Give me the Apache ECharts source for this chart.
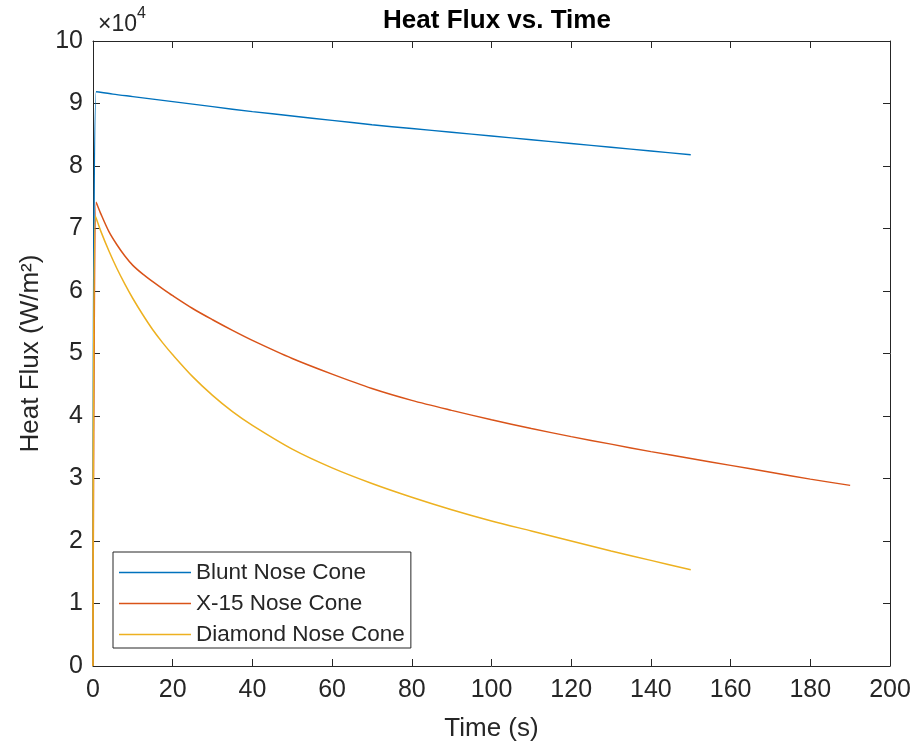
<!DOCTYPE html>
<html>
<head>
<meta charset="utf-8">
<script src="https://cdn.jsdelivr.net/npm/echarts@6/dist/echarts.min.js"></script>
<style>html,body{margin:0;padding:0;background:#fff}#chart{width:917px;height:747px}</style>
</head>
<body>
<div id="chart"></div>
<script>
// Data (heat flux in W/m^2, time in s)
const bluntTime = [0, 0.8, 5, 10, 20, 30, 40, 50, 60, 70, 80, 90, 100, 110, 120, 130, 140, 150];
const bluntFlux = [0, 91900, 91500, 91100, 90300, 89500, 88700, 88000, 87300, 86600, 86000, 85400, 84800, 84200, 83600, 83000, 82400, 81800];

const x15Time = [0, 0.8, 2, 4, 6, 8, 10, 12.5, 15, 17.5, 20, 25, 30, 35, 40, 50, 60, 70, 80, 90, 100, 110, 120, 130, 140, 150, 160, 170, 180, 190];
const x15Flux = [0, 74200, 72300, 69500, 67400, 65600, 64100, 62700, 61500, 60350, 59250, 57200, 55400, 53700, 52100, 49200, 46700, 44400, 42500, 40900, 39400, 38000, 36700, 35500, 34300, 33200, 32100, 31000, 29900, 28900];

const diamondTime = [0, 0.6, 2, 4, 6, 8, 10, 12.5, 15, 17.5, 20, 25, 30, 35, 40, 50, 60, 70, 80, 90, 100, 110, 120, 130, 140, 150];
const diamondFlux = [0, 72000, 69500, 66400, 63600, 61100, 58800, 56200, 53800, 51700, 49800, 46300, 43300, 40700, 38500, 34700, 31700, 29200, 27000, 25000, 23200, 21600, 20000, 18400, 16900, 15400];

const seriesNames = ['Blunt Nose Cone', 'X-15 Nose Cone', 'Diamond Nose Cone'];
const seriesColors = ['#0072BD', '#D95319', '#EDB120'];
const xTicks = {min: 0, max: 200, interval: 20};
const yTicks = {min: 0, max: 100000, interval: 10000};

function pairs(t, v) { return t.map((x, i) => [x, v[i]]); }

const FONT = 'Arial, "Liberation Sans", Helvetica, sans-serif';
const AX = '#262626';
const chart = echarts.init(document.getElementById('chart'));

const axisCommon = {
  axisLine: {show: true, onZero: false, lineStyle: {color: AX, width: 1}},
  axisTick: {show: true, inside: true, length: 7, lineStyle: {color: AX, width: 1}},
  splitLine: {show: false}
};

const seriesData = [pairs(bluntTime, bluntFlux), pairs(x15Time, x15Flux), pairs(diamondTime, diamondFlux)];

chart.setOption({
  animation: false,
  backgroundColor: '#fff',
  title: [{
    text: 'Heat Flux vs. Time',
    left: 492, top: 3, textAlign: 'center',
    textStyle: {fontFamily: FONT, fontSize: 26, fontWeight: 'bold', color: '#000'}
  }, {
    text: '{m|×10}{s|4}',
    left: 93, top: 1,
    textStyle: {
      fontFamily: FONT, fontWeight: 'normal',
      rich: {
        m: {fontFamily: FONT, fontWeight: 'normal', fontSize: 23, color: AX, lineHeight: 30, verticalAlign: 'bottom'},
        s: {fontFamily: FONT, fontWeight: 'normal', fontSize: 16, color: AX, lineHeight: 30, verticalAlign: 'top'}
      }
    }
  }],
  grid: {left: 93, right: 27, top: 41, bottom: 79},
  legend: {
    data: seriesNames.map(n => ({name: n, icon: 'rect'})),
    orient: 'vertical',
    left: 113, top: 552,
    itemWidth: 72, itemHeight: 1.5, itemGap: 8,
    padding: [9, 6, 2, 6],
    borderColor: AX, borderWidth: 1,
    backgroundColor: '#fff',
    textStyle: {fontFamily: FONT, fontSize: 22.5, lineHeight: 22, color: AX}
  },
  xAxis: [{
    type: 'value', min: xTicks.min, max: xTicks.max, interval: xTicks.interval,
    name: 'Time (s)', nameLocation: 'middle', nameGap: 50,
    nameTextStyle: {fontFamily: FONT, fontSize: 26, color: AX},
    axisLabel: {fontFamily: FONT, fontSize: 25, color: AX, margin: 12},
    ...axisCommon
  }, {
    type: 'value', position: 'top', min: xTicks.min, max: xTicks.max, interval: xTicks.interval,
    axisLabel: {show: false},
    ...axisCommon
  }],
  yAxis: [{
    type: 'value', min: yTicks.min, max: yTicks.max, interval: yTicks.interval,
    name: 'Heat Flux (W/m²)', nameLocation: 'middle', nameGap: 46,
    nameTextStyle: {fontFamily: FONT, fontSize: 26, color: AX},
    axisLabel: {fontFamily: FONT, fontSize: 25, color: AX, margin: 10, formatter: v => String(v / 10000)},
    ...axisCommon
  }, {
    type: 'value', position: 'right', min: yTicks.min, max: yTicks.max, interval: yTicks.interval,
    axisLabel: {show: false},
    ...axisCommon
  }],
  series: seriesNames.map((n, i) => ({
    name: n, type: 'line', symbol: 'none', smooth: 0.3,
    data: seriesData[i],
    lineStyle: {color: seriesColors[i], width: 1.5}, itemStyle: {color: seriesColors[i]}
  }))
});
</script>
</body>
</html>
